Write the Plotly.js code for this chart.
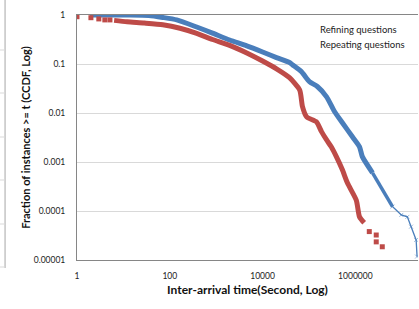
<!DOCTYPE html>
<html>
<head>
<meta charset="utf-8">
<script src="https://cdn.plot.ly/plotly-3.0.1.min.js"></script>
<style>html,body{margin:0;padding:0;background:#fff;}#chart{width:419px;height:309px;}</style>
</head>
<body>
<div id="chart"></div>
<script>
// Refining questions (blue) — log10(time), log10(CCDF)
const refiningLogT = [0.28, 1.14, 1.55, 1.85, 2.15, 2.58, 2.92, 3.29, 3.66, 4.0, 4.30, 4.58, 4.65, 4.84, 5.01, 5.18, 5.38, 5.55, 5.72, 5.94, 6.09, 6.15, 6.37];
const refiningLogV = [0, 0, -0.01, -0.05, -0.10, -0.245, -0.37, -0.51, -0.63, -0.755, -0.87, -0.97, -1.02, -1.16, -1.36, -1.46, -1.67, -1.97, -2.20, -2.49, -2.69, -2.89, -3.22];
const refiningMidLogT = [6.37, 6.58, 6.80];
const refiningMidLogV = [-3.22, -3.57, -3.91];
const refiningTailLogT = [6.80, 6.99, 7.12, 7.20, 7.31, 7.33];
const refiningTailLogV = [-3.91, -4.08, -4.12, -4.32, -4.59, -4.93];

// Repeating questions (red)
const repeatingSparseLogT = [0, 0.30, 0.47, 0.60, 0.71, 6.30, 6.45, 6.45, 6.58];
const repeatingSparseLogV = [-0.035, -0.055, -0.08, -0.10, -0.10, -4.42, -4.49, -4.63, -4.73];
const repeatingLogT = [0.80, 1.08, 1.45, 1.85, 2.22, 2.58, 2.92, 3.29, 3.66, 4.0, 4.30, 4.58, 4.80, 4.86, 4.95, 5.16, 5.27, 5.38, 5.48, 5.59, 5.72, 5.83, 6.02, 6.09, 6.19];
const repeatingLogV = [-0.11, -0.14, -0.165, -0.20, -0.27, -0.375, -0.50, -0.62, -0.775, -0.94, -1.10, -1.28, -1.53, -1.87, -2.08, -2.18, -2.38, -2.55, -2.69, -2.89, -3.16, -3.43, -3.78, -4.12, -4.24];

const seriesNames = ["Refining questions", "Repeating questions"];
const xTickVals = [1, 100, 10000, 1000000];
const xTickText = ["1", "100", "10000", "1000000"];
const yTickVals = [1, 0.1, 0.01, 0.001, 0.0001, 0.00001];
const yTickText = ["1", "0.1", "0.01", "0.001", "0.0001", "0.00001"];

const pw = a => a.map(v => Math.pow(10, v));
const BLUE = "#4A7EBB", RED = "#BE4B48";

const traces = [
  {x: pw(refiningLogT), y: pw(refiningLogV), mode: "lines", line: {color: BLUE, width: 5, shape: "spline", smoothing: 0.6}, name: seriesNames[0]},
  {x: pw(refiningMidLogT), y: pw(refiningMidLogV), mode: "lines", line: {color: BLUE, width: 3.5}, name: seriesNames[0]},
  {x: pw(refiningTailLogT), y: pw(refiningTailLogV), mode: "lines+markers", line: {color: BLUE, width: 1.3},
   marker: {symbol: "x-thin", size: 4, color: "rgba(74,126,187,0.5)", line: {color: "rgba(74,126,187,0.5)", width: 1}}, name: seriesNames[0]},
  {x: pw(repeatingLogT), y: pw(repeatingLogV), mode: "lines", line: {color: RED, width: 5, shape: "spline", smoothing: 0.6}, name: seriesNames[1]},
  {x: pw(repeatingSparseLogT), y: pw(repeatingSparseLogV), mode: "markers", marker: {symbol: "square", size: 5, color: RED}, name: seriesNames[1]}
];

const fragY = [50, 93, 137, 180, 224, 267];
const shapes = [{type: "line", xref: "paper", yref: "paper", x0: -0.211, x1: -0.211, y0: (260 - 0) / 245, y1: (260 - 268) / 245, line: {color: "#A6A6A6", width: 1}}];
fragY.forEach(py => shapes.push({type: "line", xref: "paper", yref: "paper", x0: -0.226, x1: -0.211, y0: (260 - py) / 245, y1: (260 - py) / 245, line: {color: "#D9D9D9", width: 1}}));

const layout = {
  width: 419, height: 309,
  margin: {l: 77, r: 1, t: 15, b: 49},
  paper_bgcolor: "#fff", plot_bgcolor: "#fff",
  showlegend: false,
  font: {family: "Lato, 'Open Sans', sans-serif", color: "#222"},
  xaxis: {type: "log", range: [0, 7.35], tickvals: xTickVals, ticktext: xTickText, showgrid: false, zeroline: false,
          showline: true, linecolor: "#868686", linewidth: 1, mirror: true, ticks: "", ticklabelstandoff: 8, tickfont: {size: 8.5, color: "#222"},
          title: {text: "<b>Inter-arrival time(Second, Log)</b>", font: {size: 12, color: "#111"}, standoff: 5}},
  yaxis: {type: "log", range: [-5, 0], tickvals: yTickVals, ticktext: yTickText, showgrid: true, gridcolor: "#D9D9D9", zeroline: false,
          showline: true, linecolor: "#868686", linewidth: 1, ticks: "", ticklabelstandoff: 9, tickfont: {size: 8.5, color: "#222"},
          title: {text: "<b>Fraction of instances >= t (CCDF, Log)</b>", font: {size: 11, color: "#111"}, standoff: 0}},
  shapes: shapes,
  annotations: [
    {xref: "paper", yref: "paper", x: (318 - 77) / 341, y: (260 - 29.5) / 245, xanchor: "left", yanchor: "middle", showarrow: false,
     text: seriesNames[0], font: {size: 9.5, color: "#222"}},
    {xref: "paper", yref: "paper", x: (318 - 77) / 341, y: (260 - 44.5) / 245, xanchor: "left", yanchor: "middle", showarrow: false,
     text: seriesNames[1], font: {size: 9.5, color: "#222"}}
  ]
};

Plotly.newPlot("chart", traces, layout, {displayModeBar: false, staticPlot: true});
</script>
</body>
</html>
